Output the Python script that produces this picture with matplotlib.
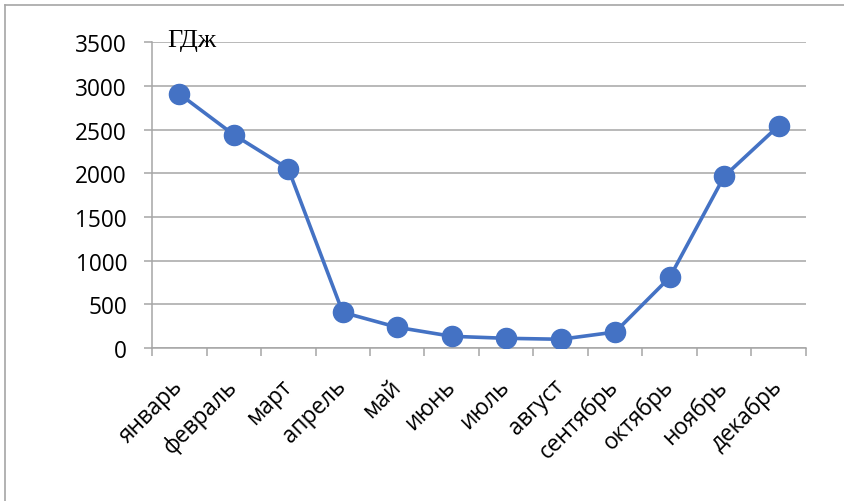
import numpy as np
import matplotlib
matplotlib.use('Agg')
import matplotlib.pyplot as plt
from matplotlib.lines import Line2D

months = ['январь', 'февраль', 'март', 'апрель', 'май', 'июнь',
          'июль', 'август', 'сентябрь', 'октябрь', 'ноябрь', 'декабрь']
heat_gj = [2910, 2442, 2053, 408, 237, 134, 111, 100, 183, 809, 1966, 2545]
y_ticks = [0, 500, 1000, 1500, 2000, 2500, 3000, 3500]
unit_label = 'ГДж'

plt.rcParams['font.family'] = ['Open Sans', 'DejaVu Sans']
blue = '#4472C4'
grey = '#a6a6a6'

fig = plt.figure(figsize=(8.44, 5.02), dpi=100)
ax = fig.add_axes([152/844, 1-349/502, 654/844, (349-43.3)/502])

x = np.arange(len(months))
ax.plot(x, heat_gj, color=blue, lw=2.6, marker='o', markersize=14.5, zorder=3)

ax.set_xlim(-0.5, len(months)-0.5)
ax.set_ylim(0, 3500)
ax.set_yticks(y_ticks)
ax.yaxis.grid(True, color=grey, lw=1.1)
ax.set_axisbelow(True)

for s in ['top', 'right']:
    ax.spines[s].set_visible(False)
for s in ['left', 'bottom']:
    ax.spines[s].set_color(grey)
    ax.spines[s].set_linewidth(1.1)

ax.tick_params(axis='y', length=6, width=1.1, color=grey, pad=12, labelsize=16.3)
ax.set_xticks(x)
ax.set_xticklabels(months, rotation=45, ha='right', va='center', rotation_mode='anchor', fontsize=16.3)
ax.tick_params(axis='x', which='major', length=0, pad=25)
ax.set_xticks(np.arange(-0.5, len(months)), minor=True)
ax.tick_params(axis='x', which='minor', length=6, width=1.1, color=grey)

ax.text(0.024, 0.988, unit_label, transform=ax.transAxes, family='Liberation Serif',
        fontsize=19, ha='left', va='baseline')

# chart frame (top and left edges only visible)
fig.add_artist(Line2D([5/844, 1], [1-6/502, 1-6/502], color=grey, lw=1.2, transform=fig.transFigure))
fig.add_artist(Line2D([5/844, 5/844], [0, 1-6/502], color=grey, lw=1.2, transform=fig.transFigure))

fig.savefig('out.png', dpi=100)
